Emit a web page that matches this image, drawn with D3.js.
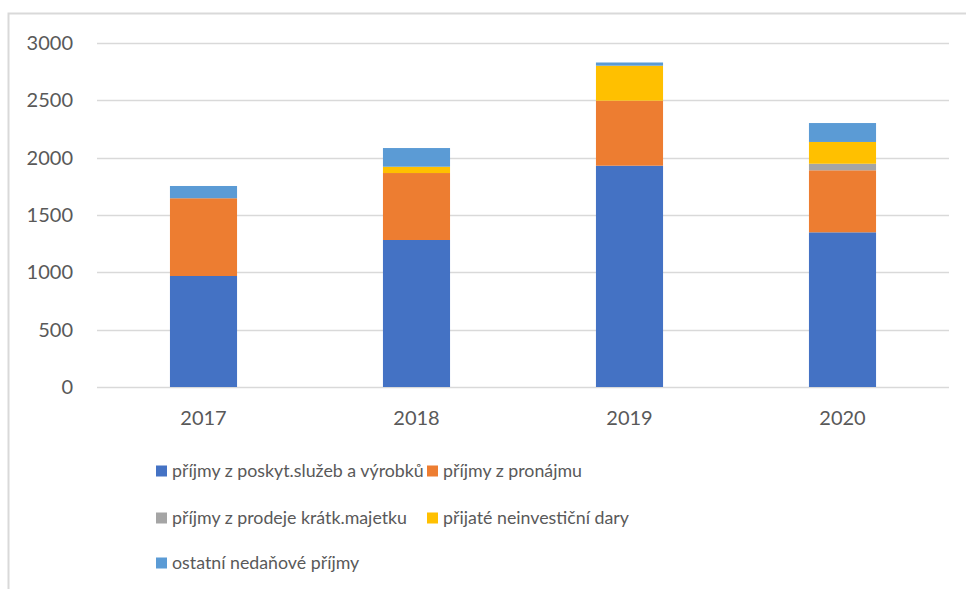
<!DOCTYPE html>
<html>
<head>
<meta charset="utf-8">
<script src="https://cdn.jsdelivr.net/npm/d3@7"></script>
<style>
  body { margin: 0; background: #fff; }
  text { font-family: Lato, "Open Sans", sans-serif; fill: #595959; }
</style>
</head>
<body>
<div id="chart"></div>
<script>
// data
const years = ["2017", "2018", "2019", "2020"];
const seriesNames = [
    "příjmy z poskyt.služeb a výrobků",
    "příjmy z pronájmu",
    "příjmy z prodeje krátk.majetku",
    "přijaté neinvestiční dary",
    "ostatní nedaňové příjmy"
];
const sluzby   = [968, 1282, 1930, 1349];
const pronajem = [678, 584, 567, 541];
const prodej   = [0, 0, 0, 57];
const dary     = [0, 55, 305, 190];
const ostatni  = [107, 163, 28, 165];
const yTicks = [0, 500, 1000, 1500, 2000, 2500, 3000];

const colors = ["#4472C4", "#ED7D31", "#A5A5A5", "#FFC000", "#5B9BD5"];

const width = 966, height = 589;
const margin = { left: 97, right: 17, top: 43, bottom: 202 };

const svg = d3.select("#chart").append("svg")
    .attr("width", width)
    .attr("height", height);

// chart frame
svg.append("rect")
    .attr("x", 8.5).attr("y", 13.5)
    .attr("width", 1000).attr("height", 1000)
    .attr("fill", "none")
    .attr("stroke", "#d9d9d9")
    .attr("stroke-width", 2);

const table = years.map((y, i) => ({
    year: y,
    s0: sluzby[i], s1: pronajem[i], s2: prodej[i], s3: dary[i], s4: ostatni[i]
}));
const keys = ["s0", "s1", "s2", "s3", "s4"];
const stacked = d3.stack().keys(keys)(table);

const x = d3.scaleBand()
    .domain(years)
    .range([margin.left, width - margin.right])
    .paddingInner(0.685)
    .paddingOuter(0.3425);

const y = d3.scaleLinear()
    .domain([0, 3000])
    .range([height - margin.bottom, margin.top]);

// gridlines
svg.append("g")
    .selectAll("line")
    .data(yTicks)
    .join("line")
    .attr("x1", margin.left)
    .attr("x2", width - margin.right)
    .attr("y1", d => Math.round(y(d)) + 0.5)
    .attr("y2", d => Math.round(y(d)) + 0.5)
    .attr("stroke", "#d9d9d9")
    .attr("stroke-width", 1.5);

// y labels
svg.append("g")
    .selectAll("text")
    .data(yTicks)
    .join("text")
    .attr("x", 73)
    .attr("y", d => y(d))
    .attr("dy", "0.35em")
    .attr("text-anchor", "end")
    .style("font-size", "20px")
    .text(d => d);

// bars
svg.append("g")
    .selectAll("g")
    .data(stacked)
    .join("g")
    .attr("fill", (d, i) => colors[i])
    .selectAll("rect")
    .data(d => d)
    .join("rect")
    .attr("x", d => x(d.data.year))
    .attr("width", x.bandwidth())
    .attr("y", d => y(d[1]))
    .attr("height", d => y(d[0]) - y(d[1]));

// x labels
svg.append("g")
    .selectAll("text")
    .data(years)
    .join("text")
    .attr("x", d => x(d) + x.bandwidth() / 2)
    .attr("y", 425)
    .attr("text-anchor", "middle")
    .style("font-size", "20px")
    .text(d => d);

// legend
const legendPos = [
    { x: 156, y: 471 }, { x: 427, y: 471 },
    { x: 156, y: 518 }, { x: 427, y: 518 },
    { x: 156, y: 563 }
];
const legend = svg.append("g")
    .selectAll("g")
    .data(seriesNames)
    .join("g")
    .attr("transform", (d, i) => `translate(${legendPos[i].x},${legendPos[i].y})`);

legend.append("rect")
    .attr("x", 0).attr("y", -5.5)
    .attr("width", 11).attr("height", 11)
    .attr("fill", (d, i) => colors[i]);

legend.append("text")
    .attr("x", 16)
    .attr("y", 0)
    .attr("dy", "0.35em")
    .style("font-size", "17.8px")
    .text(d => d);
</script>
</body>
</html>
